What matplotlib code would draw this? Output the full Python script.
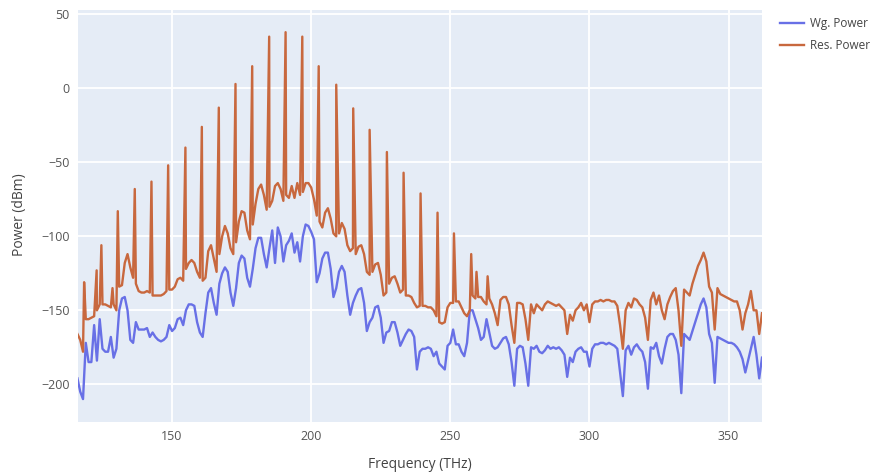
import numpy as np
import matplotlib.pyplot as plt

plt.rcParams['font.family'] = ['Open Sans', 'DejaVu Sans']

# sampling grid of the spectrum, 1 THz steps
freq = np.arange(116, 363)

# waveguide output power (dBm) on the grid
wg_power = [
    -196, -205, -210, -172, -185, -185, -160, -184, -156, -176,   # 116-125
    -178, -178, -168, -182, -176, -150, -142, -141, -150, -170,   # 126-135
    -172, -158, -163, -163, -163, -162, -168, -165, -168, -170,   # 136-145
    -171, -170, -168, -160, -164, -162, -156, -155, -160, -150,   # 146-155
    -146, -146, -147, -158, -165, -168, -152, -138, -135, -145,   # 156-165
    -153, -132, -125, -121, -124, -138, -147, -135, -118, -113,   # 166-175
    -115, -128, -134, -122, -108, -101, -101, -112, -121, -108,   # 176-185
    -96, -118, -94, -100, -117, -106, -103, -98, -111, -104,      # 186-195
    -117, -100, -92, -93, -97, -102, -131, -125, -115, -111,      # 196-205
    -111, -122, -141, -135, -124, -120, -124, -140, -153, -145,   # 206-215
    -140, -136, -135, -145, -164, -158, -155, -148, -147, -155,   # 216-225
    -172, -165, -164, -158, -158, -165, -174, -170, -166, -163,   # 226-235
    -164, -168, -190, -178, -176, -176, -175, -176, -181, -178,   # 236-245
    -186, -188, -190, -174, -172, -163, -173, -173, -178, -181,   # 246-255
    -172, -150, -150, -156, -162, -170, -168, -156, -165, -174,   # 256-265
    -176, -175, -172, -169, -168, -173, -185, -201, -176, -174,   # 266-275
    -175, -186, -201, -175, -176, -174, -178, -179, -177, -174,   # 276-285
    -176, -175, -176, -175, -177, -180, -195, -182, -185, -178,   # 286-295
    -176, -175, -178, -178, -188, -176, -173, -173, -172, -172,   # 296-305
    -173, -172, -173, -174, -176, -192, -208, -177, -174, -180,   # 306-315
    -175, -173, -176, -178, -185, -203, -175, -176, -172, -181,   # 316-325
    -186, -176, -168, -166, -166, -170, -180, -206, -166, -168,   # 326-335
    -170, -164, -158, -152, -146, -142, -148, -166, -172, -199,   # 336-345
    -168, -169, -170, -171, -172, -172, -173, -175, -178, -183,   # 346-355
    -192, -184, -176, -168, -180, -196, -182,                     # 356-362
]

# resonator power (dBm) between the comb lines
res_background = [
    -166, -170, -178, -156, -156, -155, -154, -150, -146, -146,   # 116-125
    -146, -147, -148, -146, -150, -134, -133, -118, -112, -121,   # 126-135
    -128, -132, -137, -138, -138, -137, -138, -140, -140, -140,   # 136-145
    -140, -139, -137, -136, -136, -134, -129, -128, -130, -122,   # 146-155
    -118, -116, -118, -124, -128, -130, -128, -110, -106, -115,   # 156-165
    -124, -112, -100, -93, -98, -108, -112, -104, -90, -83,       # 166-175
    -84, -96, -102, -92, -78, -68, -65, -72, -82, -80,            # 176-185
    -76, -66, -64, -68, -76, -72, -74, -66, -74, -64,             # 186-195
    -72, -70, -64, -64, -67, -75, -86, -90, -94, -84,             # 196-205
    -81, -88, -98, -100, -98, -91, -95, -106, -110, -108,         # 206-215
    -112, -107, -106, -112, -124, -126, -124, -119, -118, -126,   # 216-225
    -140, -138, -132, -128, -127, -132, -138, -136, -140, -140,   # 226-235
    -141, -145, -148, -147, -147, -147, -148, -148, -150, -154,   # 236-245
    -158, -159, -158, -148, -145, -145, -144, -144, -148, -152,   # 246-255
    -154, -150, -140, -142, -141, -141, -144, -146, -142, -146,   # 256-265
    -152, -160, -143, -141, -141, -146, -160, -172, -145, -145,   # 266-275
    -146, -156, -170, -146, -152, -146, -148, -150, -146, -144,   # 276-285
    -145, -146, -147, -146, -148, -150, -166, -153, -157, -150,   # 286-295
    -148, -145, -150, -146, -158, -146, -144, -144, -143, -144,   # 296-305
    -143, -143, -144, -144, -147, -160, -176, -150, -145, -148,   # 306-315
    -142, -143, -146, -148, -155, -170, -143, -138, -146, -140,   # 316-325
    -150, -156, -146, -141, -137, -135, -150, -174, -136, -138,   # 326-335
    -140, -132, -126, -120, -116, -111, -117, -134, -138, -163,   # 336-345
    -135, -139, -140, -141, -142, -143, -144, -144, -150, -163,   # 346-355
    -152, -146, -137, -150, -150, -166, -152,                     # 356-362
]

# comb lines of the resonator
comb_freq = [118.4, 122.9, 124.6, 128.6, 130.5, 136.6, 142.6, 148.6, 154.8,
             160.7, 166.8, 172.8, 178.8, 184.9, 190.8, 196.8, 202.7, 209.0,
             215.1, 221.0, 227.2, 233.2, 239.3, 245.4, 251.3, 257.5, 259.4,
             263.4]
comb_power = [-131, -123, -106, -135, -83, -68, -63, -52, -40,
              -26, -13, 3, 15, 35, 38, 35, 15, 2.5,
              -13.5, -28, -43, -57, -71, -84, -98, -112, -124,
              -127]

x_ticks = [150, 200, 250, 300, 350]
y_ticks = [-200, -150, -100, -50, 0, 50]

# merge comb lines into the resonator trace
res_freq = np.concatenate([freq, comb_freq])
res_power = np.concatenate([res_background, comb_power])
order = np.argsort(res_freq, kind='stable')
res_freq = res_freq[order]
res_power = res_power[order]

fig = plt.figure(figsize=(8.74, 4.76), dpi=100)
ax = fig.add_axes([78 / 874, 1 - 422 / 476, (762 - 78) / 874, (422 - 10) / 476])
ax.set_facecolor('#E5ECF6')

ax.plot(freq, wg_power, color='#6870E6', lw=1.7, label='Wg. Power')
ax.plot(res_freq, res_power, color='#C8683E', lw=1.7, label='Res. Power')

ax.set_xlim(116.2, 362)
ax.set_ylim(-225.5, 53)
ax.set_xticks(x_ticks)
ax.set_yticks(y_ticks)
ax.grid(True, color='white', lw=1.3)
ax.set_axisbelow(True)
for s in ax.spines.values():
    s.set_visible(False)
ax.tick_params(length=0, labelsize=9, colors='#555555', pad=6)

fig.text(420 / 874, 1 - 465 / 476, 'Frequency (THz)', ha='center', va='center',
         fontsize=10, color='#444444')
fig.text(20 / 874, 1 - 215 / 476, 'Power (dBm)', ha='center', va='center',
         rotation=90, fontsize=10, color='#444444')

fig.legend(loc='upper left', bbox_to_anchor=(780 / 874, 1 - 17 / 476),
           frameon=False, fontsize=8.5, handlelength=2.0, handletextpad=0.5,
           labelspacing=0.8, borderpad=0, borderaxespad=0,
           labelcolor='#444444')

fig.savefig('out.png', dpi=100)
